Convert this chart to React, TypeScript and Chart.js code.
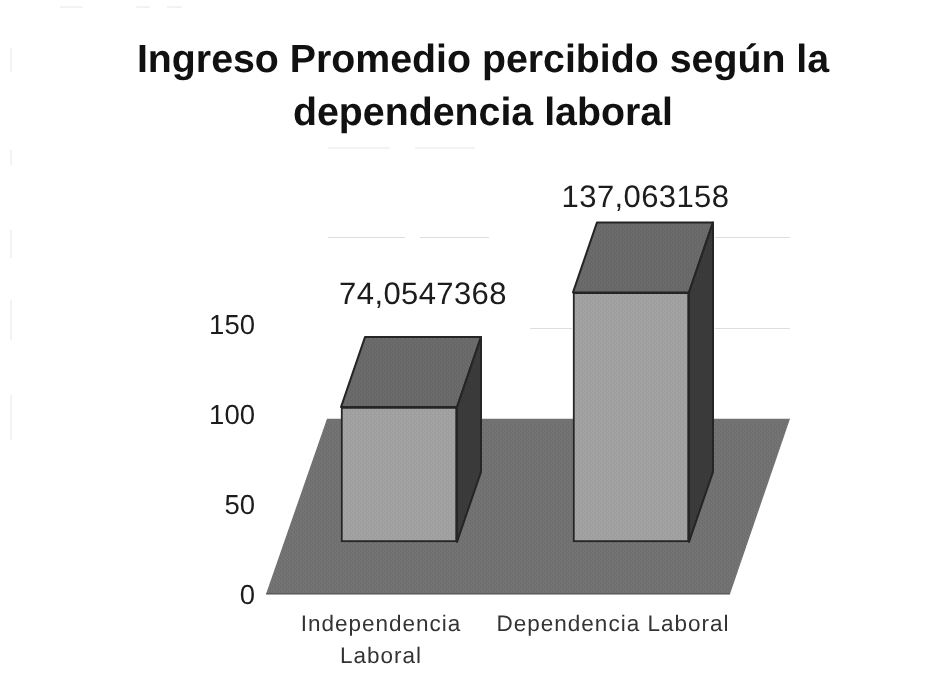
import React, { useEffect, useRef } from "react";
import { Chart, registerables } from "chart.js";

Chart.register(...registerables);

const titleLines = ["Ingreso Promedio percibido según la", "dependencia laboral"];
const categories = [["Independencia", "Laboral"], ["Dependencia Laboral"]];
const ingresoPromedio = [74.0547368, 137.063158];
const axisTicks = [0, 50, 100, 150];
const wallGridValues = [50, 100];

const FONT = "'Liberation Sans', Arial, sans-serif";
const INK = "#1c1c1c";

// Oblique projection of the 3-D look
const BAR_DX = 24;
const BAR_DY = 70;
const FLOOR_DX = 61;
const FLOOR_LEFT_SHIFT = 17;
const FLOOR_BACK_ABOVE_BASE = 123;
const labelNudge = [{ dx: 0, dy: -42 }, { dx: -9.5, dy: -24 }];
// Parts of the back-wall grid that remain visible
const wallSegments: Record<number, number[][]> = {
  100: [[328, 405], [420, 489], [715, 790]],
  50: [[530, 572], [715, 790]],
};
// Faint scan marks at the page edge
const scanMarks = [
  [11, 48, 11, 72], [11, 150, 11, 165], [11, 230, 11, 258], [11, 300, 11, 340], [11, 395, 11, 440],
  [60, 7, 82, 7], [136, 7, 150, 7], [167, 7, 182, 7], [328, 148, 390, 148], [415, 148, 475, 148],
];

function tile(base: number, spread: number) {
  const c = document.createElement("canvas");
  c.width = 8;
  c.height = 8;
  const g = c.getContext("2d")!;
  for (let y = 0; y < 8; y++) {
    for (let x = 0; x < 8; x++) {
      const v = base + (((x * 5 + y * 3) % 4 === 0 ? 1 : 0) - (y % 2 === 0 && x % 3 === 0 ? 1 : 0)) * spread;
      g.fillStyle = `rgb(${v},${v},${v})`;
      g.fillRect(x, y, 1, 1);
    }
  }
  return g.createPattern(c, "repeat")!;
}

function poly(ctx: CanvasRenderingContext2D, pts: number[][], fill: any, stroke?: string, lw = 2) {
  ctx.beginPath();
  pts.forEach((p, i) => (i ? ctx.lineTo(p[0], p[1]) : ctx.moveTo(p[0], p[1])));
  ctx.closePath();
  ctx.fillStyle = fill;
  ctx.fill();
  if (stroke) {
    ctx.strokeStyle = stroke;
    ctx.lineWidth = lw;
    ctx.lineJoin = "round";
    ctx.stroke();
  }
}

const scene3d = {
  id: "scene3d",
  beforeDraw(chart: any) {
    (chart.ctx as any).letterSpacing = "0px";
    (chart.ctx as any).textRendering = "geometricPrecision";
  },
  beforeDatasetsDraw(chart: any) {
    const { ctx, scales } = chart;
    const x = scales.x;
    const front = scales.y.getPixelForValue(0);
    const base = scales.yBar.getPixelForValue(0);
    const back = base - FLOOR_BACK_ABOVE_BASE;
    ctx.save();
    ctx.lineCap = "butt";
    ctx.strokeStyle = "#e6e6e6";
    ctx.lineWidth = 1;
    scanMarks.forEach((m) => {
      ctx.beginPath();
      ctx.moveTo(m[0], m[1]);
      ctx.lineTo(m[2], m[3]);
      ctx.stroke();
    });
    ctx.strokeStyle = "#dedede";
    wallGridValues.forEach((v) => {
      const y = Math.round(scales.yBar.getPixelForValue(v) - FLOOR_BACK_ABOVE_BASE) + 0.5;
      wallSegments[v].forEach((s) => {
        ctx.beginPath();
        ctx.moveTo(s[0], y);
        ctx.lineTo(s[1], y);
        ctx.stroke();
      });
    });
    const fl = x.left - FLOOR_LEFT_SHIFT;
    const fr = x.right - FLOOR_LEFT_SHIFT;
    poly(ctx, [[fl, front], [fr, front], [fr + FLOOR_DX - 1, back], [fl + FLOOR_DX, back]], tile(113, 7));
    ctx.strokeStyle = "#4a4a4a";
    ctx.lineWidth = 1.2;
    ctx.beginPath();
    ctx.moveTo(fl, front);
    ctx.lineTo(fr, front);
    ctx.stroke();

    const topFill = tile(105, 6);
    const sideFill = tile(58, 4);
    chart.getDatasetMeta(0).data.forEach((bar: any) => {
      const l = bar.x - bar.width / 2;
      const r = bar.x + bar.width / 2;
      const t = bar.y;
      const b = bar.base;
      poly(ctx, [[l, t], [l + BAR_DX, t - BAR_DY], [r + BAR_DX, t - BAR_DY], [r, t]], topFill, "#252525");
      poly(ctx, [[r, t], [r + BAR_DX, t - BAR_DY], [r + BAR_DX, b - BAR_DY], [r, b]], sideFill, "#252525");
    });
    ctx.restore();
  },
  afterDatasetsDraw(chart: any) {
    const { ctx } = chart;
    ctx.save();
    ctx.font = `31px ${FONT}`;
    (ctx as any).letterSpacing = "0.4px";
    ctx.fillStyle = INK;
    ctx.textAlign = "center";
    ctx.textBaseline = "middle";
    chart.getDatasetMeta(0).data.forEach((bar: any, i: number) => {
      const text = String(ingresoPromedio[i]).replace(".", ",");
      ctx.fillText(text, bar.x + BAR_DX + labelNudge[i].dx, bar.y - BAR_DY + labelNudge[i].dy);
    });
    ctx.restore();
    // The category labels are drawn after this point (ticks.z = 1) and are widely spaced
    (ctx as any).letterSpacing = "1px";
  },
};

export default function App() {
  const ref = useRef<HTMLCanvasElement>(null);
  useEffect(() => {
    const ctx = ref.current!.getContext("2d")!;
    const chart = new Chart(ctx, {
      type: "bar",
      data: {
        labels: categories as any,
        datasets: [
          {
            data: ingresoPromedio,
            yAxisID: "yBar",
            barThickness: 116,
            backgroundColor: tile(160, 7) as any,
            borderColor: "#252525",
            borderWidth: 2,
            borderSkipped: false,
          },
        ],
      },
      options: {
        responsive: false,
        animation: false,
        layout: { padding: { left: 120, right: 104, top: 0, bottom: 0 } },
        plugins: {
          legend: { display: false },
          tooltip: { enabled: false },
          title: {
            display: true,
            text: titleLines,
            color: "#111111",
            font: { family: FONT, size: 39.3, weight: "bold", lineHeight: 53 / 39.3 },
            padding: { top: 35, bottom: 72 },
          },
        },
        scales: {
          x: {
            grid: { display: false },
            border: { display: false },
            afterFit: (s: any) => { s.height = 676 - 594; },
            ticks: {
              z: 1,
              color: "#333333",
              maxRotation: 0,
              autoSkip: false,
              labelOffset: -18,
              padding: 7,
              font: { family: FONT, size: 22.5, lineHeight: 32 / 22.5 },
            },
          },
          y: {
            position: "left",
            min: 0,
            max: 212.3,
            grid: { display: false, drawTicks: false },
            border: { display: false },
            afterBuildTicks: (s: any) => { s.ticks = axisTicks.map((value) => ({ value })); },
            afterFit: (s: any) => { s.width = 283 - 120; },
            ticks: {
              color: INK,
              padding: 28,
              labelOffset: 2,
              font: { family: FONT, size: 27.5 },
              callback: (v: any) => String(v),
            },
          },
          yBar: {
            position: "right",
            min: -28.65,
            max: 180.7,
            grid: { display: false, drawTicks: false },
            border: { display: false },
            ticks: { display: false },
            afterFit: (s: any) => { s.width = 950 - 104 - 747; },
          },
        },
      } as any,
      plugins: [scene3d],
    });
    return () => chart.destroy();
  }, []);
  return (
    <div style={{ position: "absolute", left: 0, top: 0, width: 950, height: 676, overflow: "hidden", background: "#fff" }}>
      <canvas ref={ref} width={950} height={676} style={{ display: "block", filter: "blur(0.45px)" }} />
    </div>
  );
}
